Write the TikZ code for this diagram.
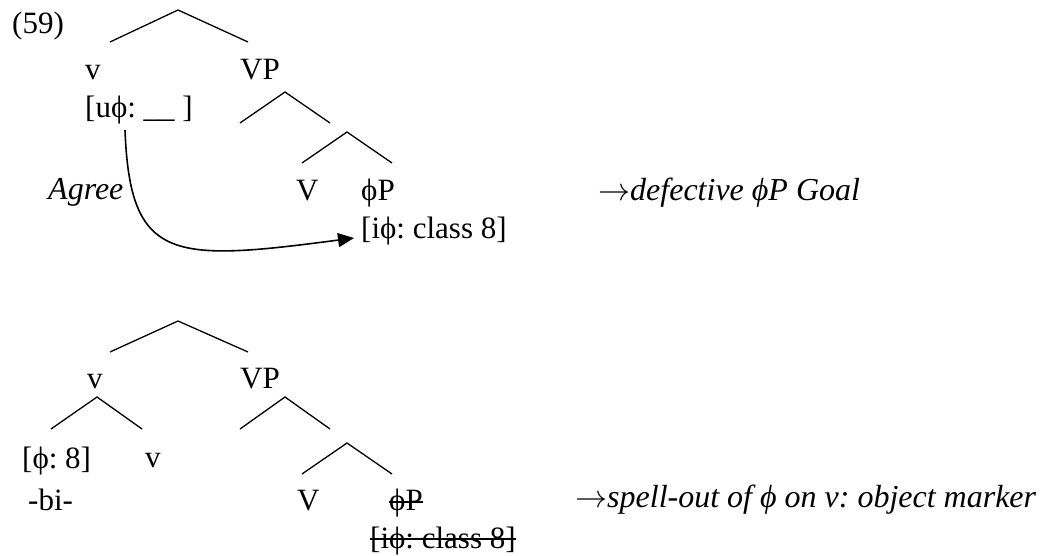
\RequirePackage{fix-cm}
\documentclass[tikz,border=0pt]{standalone}
\usepackage{fontspec}
\setmainfont{Liberation Serif}
\usetikzlibrary{arrows.meta,calc}
\frenchspacing
\begin{document}
\begin{tikzpicture}[x=1pt,y=-1pt,
  lbl/.style={anchor=base west,inner sep=0pt,font=\fontsize{31}{37}\selectfont},
  note/.style={anchor=base west,inner sep=0pt,font=\fontsize{32}{38}\selectfont\itshape},
  branch/.style={line width=1.3pt},
  agreearrow/.style={line width=1.6pt,-{Triangle[length=16pt,width=14pt]}},
  strike/.style={line width=1.3pt}]
\useasboundingbox (0,0) rectangle (1063,556);

% ---------- top tree ----------
\node[lbl] (ex) at (12,34) {(59)};
\node[lbl] (v1) at (85,80) {v};
\node[lbl] (vp1) at (240,80) {VP};
\node[lbl] (uphi) at (85,118) {[uϕ: \_\_ ]};
\node[note] (agree) at (48,200) {Agree};
\node[lbl] (V1) at (296,201) {V};
\node[lbl] (phip1) at (361,201) {ϕP};
\node[lbl] (iphi1) at (361,239) {[iϕ: class 8]};
\node[note] (goal) at (598,201) {$\rightarrow$defective ϕP Goal};

\coordinate (r1) at (178,10);  \coordinate (r1l) at (110,42);  \coordinate (r1r) at (248,42);
\coordinate (p1) at (285,92);  \coordinate (p1l) at (240,123); \coordinate (p1r) at (330,123);
\coordinate (q1) at (347,132); \coordinate (q1l) at (302,163); \coordinate (q1r) at (392,163);
\draw[branch] (r1l) -- (r1) -- (r1r);
\draw[branch] (p1l) -- (p1) -- (p1r);
\draw[branch] (q1l) -- (q1) -- (q1r);

\draw[agreearrow] ($(uphi.base west)+(40,12)$) .. controls (130,262) and (172,262) .. ($(iphi1.base west)+(-7,-1)$);

% ---------- bottom tree ----------
\node[lbl] (v2) at (87,388) {v};
\node[lbl] (vp2) at (240,388) {VP};
\node[lbl] (phi8) at (22,468) {[ϕ: 8]};
\node[lbl] (v3) at (145,467) {v};
\node[lbl] (bi) at (28,510) {-bi-};
\node[lbl] (V2) at (297,510) {V};
\node[lbl] (phip2) at (389,510) {ϕP};
\node[lbl] (iphi2) at (370,548) {[iϕ: class 8]};
\node[note] (spell) at (575,507) {$\rightarrow$spell-out of ϕ on v: object marker};

\coordinate (r2) at (178,321); \coordinate (r2l) at (110,352); \coordinate (r2r) at (248,352);
\coordinate (s2) at (97,397);  \coordinate (s2l) at (51,429);  \coordinate (s2r) at (142,429);
\coordinate (p2) at (285,397); \coordinate (p2l) at (240,429); \coordinate (p2r) at (330,429);
\coordinate (q2) at (347,443); \coordinate (q2l) at (302,474); \coordinate (q2r) at (392,474);
\draw[branch] (r2l) -- (r2) -- (r2r);
\draw[branch] (s2l) -- (s2) -- (s2r);
\draw[branch] (p2l) -- (p2) -- (p2r);
\draw[branch] (q2l) -- (q2) -- (q2r);

\draw[strike] ($(phip2.base west)+(0,-8)$) -- ($(phip2.base east)+(0,-8)$);
\draw[strike] ($(iphi2.base west)+(0,-9)$) -- ($(iphi2.base east)+(0,-9)$);
\end{tikzpicture}
\end{document}
